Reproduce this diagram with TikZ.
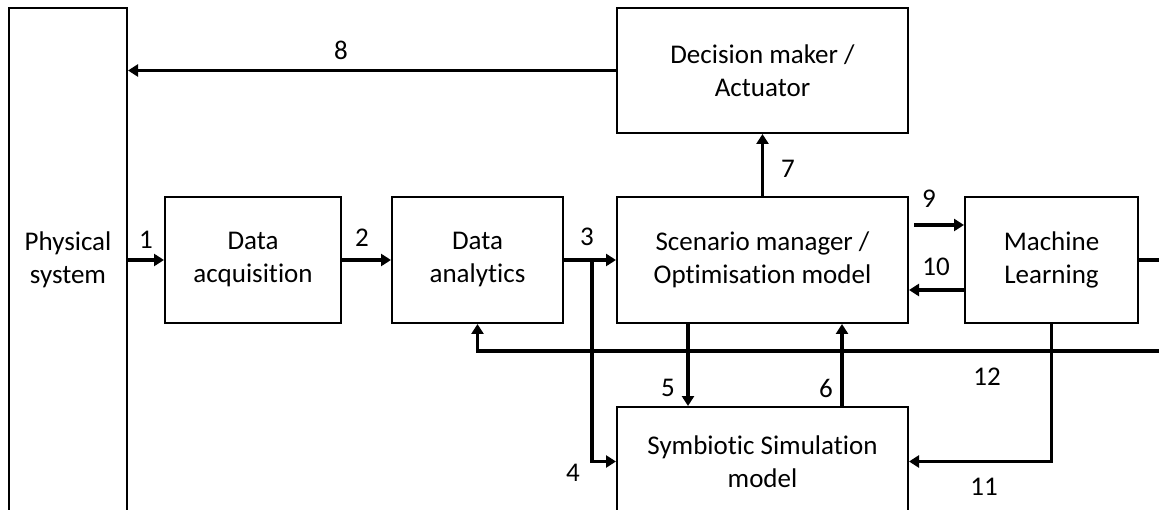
\documentclass[tikz,border=0pt]{standalone}
\usepackage{fontspec}
\setmainfont{Carlito}[Ligatures=NoCommon]
\usetikzlibrary{arrows.meta,calc}
\begin{document}
\begin{tikzpicture}[x=1pt,y=-1pt,
  box/.style={draw, line width=2pt, inner sep=0pt, align=center,
    font=\fontsize{27}{33}\selectfont},
  txt/.style={inner sep=0pt, align=center, font=\fontsize{27}{33}\selectfont},
  lbl/.style={inner sep=0pt, font=\fontsize{27}{33}\selectfont},
  arr/.style={line width=3.5pt, -{Triangle[length=10pt,width=12pt]}}]
\useasboundingbox (0,0) rectangle (1159,510);
\fill[white] (0,0) rectangle (1159,510);
\clip (0,0) rectangle (1159,510);
% boxes
\node[box, minimum width=118pt, minimum height=592pt] (phys) at (68,304) {};
\node[txt] (phystxt) at (68,260) {Physical\\system};
\node[box, minimum width=176pt, minimum height=126pt] (acq) at (253,260) {Data\\acquisition};
\node[box, minimum width=171pt, minimum height=126pt] (ana) at (477.5,260) {Data\\analytics};
\node[box, minimum width=291pt, minimum height=126pt] (scen) at (762.5,260) {Scenario manager /\\Optimisation model};
\node[box, minimum width=173pt, minimum height=126pt] (ml) at (1051.5,260) {Machine\\Learning};
\node[box, minimum width=291pt, minimum height=125pt] (dec) at (762.5,70.5) {Decision maker /\\Actuator};
\node[box, minimum width=291pt, minimum height=109pt] (sym) at (762.5,461.5) {Symbiotic Simulation\\model};
% connectors
\draw[arr] (phys.east |- acq.west) -- (acq.west);
\draw[arr] (acq.east) -- (ana.west);
\draw[arr] (ana.east) -- (scen.west);
\coordinate (br) at (592,260);
\draw[arr] (br) |- (sym.west);
\draw[arr] ([xshift=-74.5pt]scen.south) -- ([xshift=-74.5pt]sym.north);
\draw[arr] ([xshift=79.5pt]sym.north) -- ([xshift=79.5pt]scen.south);
\draw[arr] (scen.north) -- (dec.south);
\draw[arr] (dec.west) -- (dec.west -| phys.east);
\draw[arr] ([shift={(5pt,35pt)}]scen.east) -- ([yshift=35pt]ml.west);
\draw[arr] ([yshift=-30pt]ml.west) -- ([yshift=-30pt]scen.east);
\draw[arr] (ml.south) |- (sym.east);
\coordinate (r12) at (1180,351);
\draw[arr] (ml.east) -| (r12) -| (ana.south);
% labels
\node[lbl] (l1) at (146,239.5) {1};
\node[lbl] (l2) at (362,238) {2};
\node[lbl] (l3) at (587,237) {3};
\node[lbl] (l4) at (573,473) {4};
\node[lbl] (l5) at (668,388) {5};
\node[lbl] (l6) at (826,388) {6};
\node[lbl] (l7) at (788,169) {7};
\node[lbl] (l8) at (341,50) {8};
\node[lbl] (l9) at (929,199) {9};
\node[lbl] (l10) at (936,267) {10};
\node[lbl] (l11) at (984,487) {11};
\node[lbl] (l12) at (987,377) {12};
\end{tikzpicture}
\end{document}
